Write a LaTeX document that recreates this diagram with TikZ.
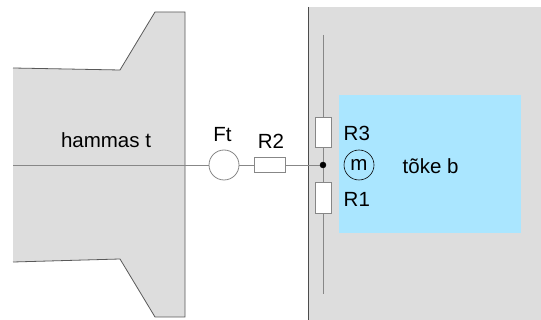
\documentclass[tikz,border=0pt]{standalone}
\usepackage{fontspec}
\setmainfont{Liberation Sans}
\definecolor{plate}{RGB}{221,221,221}
\definecolor{toke}{RGB}{170,230,255}
\definecolor{wire}{RGB}{135,135,135}
\tikzset{
  label text/.style={black,inner sep=0pt,font=\fontsize{20.5pt}{24pt}\selectfont},
  resistor/.style={draw=wire,fill=white,rectangle,inner sep=0pt,line width=0.8pt},
  wire line/.style={wire,line width=0.9pt}
}
\begin{document}
\begin{tikzpicture}[x=1pt,y=-1pt]
	\useasboundingbox (0,0) rectangle (541,320);
	\fill[plate] (308,7) rectangle (541,320);
	\draw[black!70,line width=0.9pt] (308,7) -- (308,320);
	\fill[toke] (339,95) rectangle (521,233);
	\filldraw[fill=plate,draw=black!65,line width=0.8pt] (13,68) -- (120,70) -- (155,12) -- (185,12) -- (185,317) -- (155,317) -- (120,259) -- (13,262);
	\coordinate (start) at (13,165);
	\coordinate (top) at (323,35);
	\coordinate (bottom) at (323,294);
	\coordinate (knot) at (323,165);
	\draw[wire line] (top) -- (bottom);
	\node[draw=wire,fill=white,circle,minimum size=30pt,inner sep=0pt,line width=0.8pt] (ft) at (224,165) {};
	\node[resistor,minimum width=31pt,minimum height=15pt] (r2) at (269.5,165) {};
	\node[resistor,minimum width=16pt,minimum height=30pt] (r3) at (323,132) {};
	\node[resistor,minimum width=16pt,minimum height=31pt] (r1) at (323,197.5) {};
	\draw[wire line] (start) -- (ft);
	\draw[wire line] (ft) -- (r2);
	\draw[wire line] (r2) -- (knot);
	\filldraw[black] (knot) circle (3pt);
	\node[draw=black!60,circle,minimum size=30pt,inner sep=0pt,line width=0.6pt,label text] (m) at (359,165) {m};
	\node[label text] (hammas) at (106,140) {hammas t};
	\node[label text] (ftlabel) at (222.5,135) {Ft};
	\node[label text] (r2label) at (271,141) {R2};
	\node[label text,anchor=west] (r3label) at (343.5,133) {R3};
	\node[label text,anchor=west] (r1label) at (343.5,199) {R1};
	\node[label text,anchor=west] (tokelabel) at (402.5,166) {tõke b};
\end{tikzpicture}
\end{document}
